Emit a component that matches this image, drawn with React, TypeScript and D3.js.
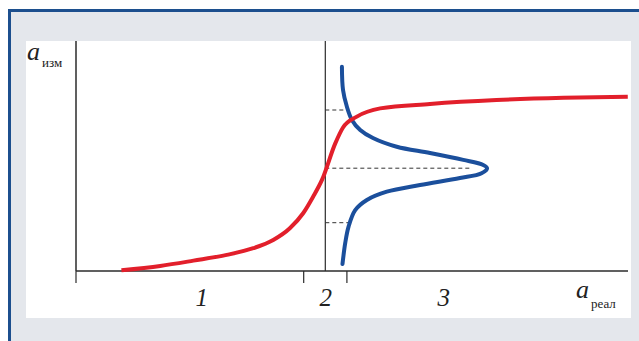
import React from 'react';
import * as d3 from 'd3';

// measured curve (red), a_izm as a function of a_real
const redX = [8.2, 15.2, 21.2, 27.2, 32.0, 35.6, 38.6, 41.0, 42.8, 44.4, 46.8, 48.2, 50.7, 54.9, 63.9, 75.9, 88.0, 99.6];
const redY = [0.3, 2.2, 4.5, 7.0, 9.9, 13.5, 18.6, 25.1, 32.3, 39.6, 55.5, 62.4, 67.1, 70.7, 72.6, 74.3, 75.3, 75.8];

// distribution curve (blue), drawn sideways
const blueX = [48.0, 48.2, 48.9, 49.8, 51.3, 53.6, 57.9, 63.9, 69.9, 73.5, 74.2, 73.2, 69.3, 62.1, 56.1, 52.5, 50.4, 49.2, 48.6, 48.1];
const blueY = [88.8, 78.7, 71.4, 65.7, 61.3, 57.8, 54.0, 51.3, 48.3, 46.1, 44.7, 42.5, 40.4, 37.4, 34.5, 30.9, 26.5, 19.3, 12.2, 3.0];

const dashLevels = [70.0, 44.7, 21.0];
const dashEnds = [48.9, 71.4, 49.1];
const dividerX = 45.0;
const tickValues = [0, 41.1, 48.9];
const regionLabels = ['1', '2', '3'];
const regionLabelX = [22.7, 45.1, 66.4];

const W = 639;
const H = 341;

export default function App() {
  const x = d3.scaleLinear().domain([0, 100]).range([76, 630]);
  const y = d3.scaleLinear().domain([0, 100]).range([271, 41]);

  const redLine = d3.line<[number, number]>()
    .x((d) => x(d[0]))
    .y((d) => y(d[1]))
    .curve(d3.curveMonotoneX);

  const blueLine = d3.line<[number, number]>()
    .x((d) => x(d[0]))
    .y((d) => y(d[1]))
    .curve(d3.curveCatmullRom.alpha(0.5));

  const redPts = redX.map((v, i) => [v, redY[i]] as [number, number]);
  const bluePts = blueX.map((v, i) => [v, blueY[i]] as [number, number]);

  const serif = '"Liberation Serif", "DejaVu Serif", serif';
  const axisColor = '#2b2b2b';

  return (
    <svg width={W} height={H} style={{ position: 'absolute', left: 0, top: 0 }}>
      <rect x={0} y={0} width={W} height={H} fill="#fff" />
      {/* frame */}
      <rect x={9.5} y={10.5} width={W} height={H} fill="#e4e7ec" stroke="#1c4f8e" strokeWidth={3} />
      <rect x={26} y={41} width={605} height={277} fill="#fff" />

      {/* axes */}
      <line x1={x(0)} x2={628} y1={y(0)} y2={y(0)} stroke={axisColor} strokeWidth={1.5} />
      <line x1={x(0)} x2={x(0)} y1={y(0)} y2={41} stroke={axisColor} strokeWidth={1.5} />
      <line x1={x(dividerX)} x2={x(dividerX)} y1={y(0)} y2={41} stroke={axisColor} strokeWidth={1.2} />
      {tickValues.map((t) => (
        <line key={t} x1={x(t)} x2={x(t)} y1={y(0)} y2={y(0) + 12} stroke={axisColor} strokeWidth={1.2} />
      ))}

      {/* dashed guides */}
      {dashLevels.map((lv, i) => (
        <line
          key={lv}
          x1={x(dividerX)}
          x2={x(dashEnds[i])}
          y1={y(lv)}
          y2={y(lv)}
          stroke="#333"
          strokeWidth={1}
          strokeDasharray="4,3"
        />
      ))}

      {/* curves */}
      <path d={blueLine(bluePts) || ''} fill="none" stroke="#1b4f9c" strokeWidth={4} strokeLinecap="round" />
      <path d={redLine(redPts) || ''} fill="none" stroke="#e21f2b" strokeWidth={4} strokeLinecap="butt" />

      {/* region labels */}
      {regionLabels.map((lab, i) => (
        <text
          key={lab}
          x={x(regionLabelX[i])}
          y={306}
          textAnchor="middle"
          fontFamily={serif}
          fontStyle="italic"
          fontSize={25}
          fill="#222"
        >
          {lab}
        </text>
      ))}

      {/* axis titles */}
      <text x={27} y={60} fontFamily={serif} fill="#222">
        <tspan fontStyle="italic" fontSize={26}>a</tspan>
        <tspan fontSize={13} dx={2} dy={7}>изм</tspan>
      </text>
      <text x={576} y={298} fontFamily={serif} fill="#222">
        <tspan fontStyle="italic" fontSize={26}>a</tspan>
        <tspan fontSize={13} dx={2} dy={10}>реал</tspan>
      </text>
    </svg>
  );
}
